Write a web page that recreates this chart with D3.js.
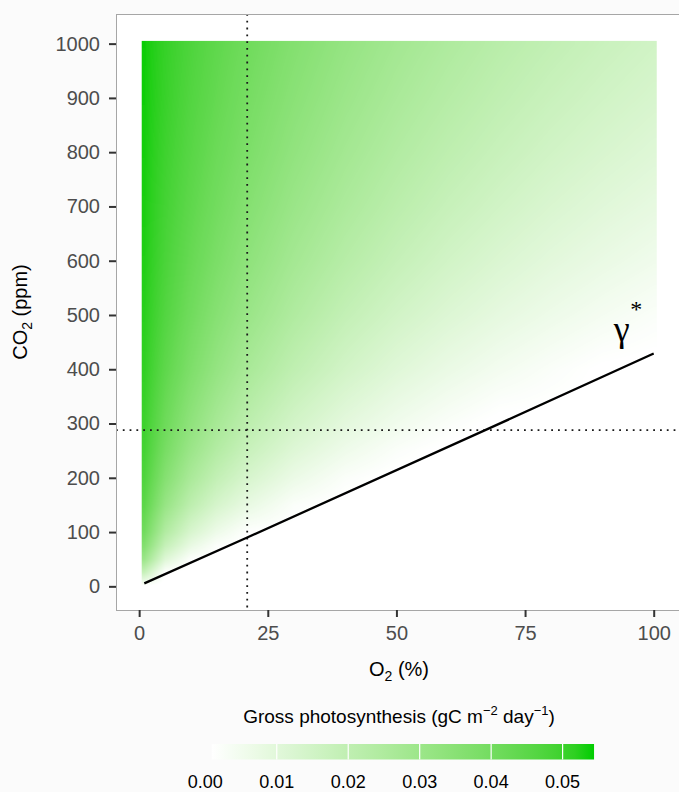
<!DOCTYPE html>
<html><head><meta charset="utf-8">
<script src="https://cdn.jsdelivr.net/npm/d3@7"></script>
<style>
body{margin:0;background:#fbfbfb;}
svg{display:block;font-family:"Liberation Sans",Arial,sans-serif;}
</style>
</head><body>
<svg id="chart" width="679" height="792"></svg>
<script>
// ---------------- data ----------------
const o2Nodes  = [1, 5, 10, 15, 21, 30, 40, 50, 60, 70, 80, 90, 100];              // O2 (%)
const co2Nodes = [0, 25, 50, 75, 100, 150, 200, 250, 300, 400, 500, 600, 700, 800, 900, 1000]; // CO2 (ppm)
// gross photosynthesis (gC m-2 day-1); one row per O2 node, values along co2Nodes
const gpp_o2_1   = [0, .0176, .0301, .0365, .0405, .0449, .0474, .0490, .0500, .0515, .0523, .0530, .0534, .0537, .0539, .0541];
const gpp_o2_5   = [0, .0010, .0111, .0186, .0241, .0314, .0360, .0392, .0415, .0446, .0467, .0481, .0491, .0499, .0506, .0510];
const gpp_o2_10  = [0, 0, .0016, .0078, .0130, .0208, .0262, .0302, .0333, .0377, .0407, .0428, .0444, .0457, .0467, .0475];
const gpp_o2_15  = [0, 0, 0, .0019, .0064, .0137, .0193, .0236, .0270, .0321, .0356, .0383, .0403, .0419, .0433, .0443];
const gpp_o2_21  = [0, 0, 0, 0, .0013, .0080, .0133, .0176, .0211, .0266, .0306, .0336, .0360, .0380, .0395, .0409];
const gpp_o2_30  = [0, 0, 0, 0, 0, .0022, .0070, .0111, .0146, .0202, .0245, .0278, .0305, .0328, .0347, .0363];
const gpp_o2_40  = [0, 0, 0, 0, 0, 0, .0023, .0060, .0093, .0148, .0191, .0227, .0256, .0280, .0301, .0319];
const gpp_o2_50  = [0, 0, 0, 0, 0, 0, 0, .0023, .0054, .0106, .0149, .0185, .0215, .0240, .0262, .0281];
const gpp_o2_60  = [0, 0, 0, 0, 0, 0, 0, 0, .0024, .0073, .0115, .0150, .0180, .0206, .0229, .0249];
const gpp_o2_70  = [0, 0, 0, 0, 0, 0, 0, 0, 0, .0046, .0087, .0121, .0151, .0177, .0200, .0220];
const gpp_o2_80  = [0, 0, 0, 0, 0, 0, 0, 0, 0, .0024, .0063, .0096, .0125, .0151, .0174, .0195];
const gpp_o2_90  = [0, 0, 0, 0, 0, 0, 0, 0, 0, .0005, .0042, .0075, .0103, .0129, .0152, .0172];
const gpp_o2_100 = [0, 0, 0, 0, 0, 0, 0, 0, 0, 0, .0024, .0056, .0084, .0109, .0132, .0152];
const gppGrid = [gpp_o2_1, gpp_o2_5, gpp_o2_10, gpp_o2_15, gpp_o2_21, gpp_o2_30, gpp_o2_40,
                 gpp_o2_50, gpp_o2_60, gpp_o2_70, gpp_o2_80, gpp_o2_90, gpp_o2_100];

// CO2 compensation point line (gamma*)
const gammaO2  = [1, 21, 68, 100];
const gammaCO2 = [5.5, 90, 291, 429];

const ambientO2 = 21;
const ambientCO2 = 288;

const xTicks = [0, 25, 50, 75, 100];
const yTicks = [0, 100, 200, 300, 400, 500, 600, 700, 800, 900, 1000];
const legendTicks = [0, 0.01, 0.02, 0.03, 0.04, 0.05];
const gppRange = [0.0009, 0.0544];
const rasterO2Extent = [0.5, 100.5];
const rasterCO2Extent = [0, 1005];

// ---------------- layout ----------------
const svg = d3.select("#chart");
const panel = {left: 116, right: 682, top: 14, bottom: 610};
const x = d3.scaleLinear().domain([-4.5, 105.5]).range([panel.left, panel.right]);
const y = d3.scaleLinear().domain([-43.6, 1054.6]).range([panel.bottom, panel.top]);
const color = d3.scaleLinear().domain(gppRange).range(["#ffffff", "#00cd00"])
  .interpolate(d3.interpolateLab).clamp(true);

// panel background
svg.append("rect").attr("x", panel.left).attr("y", panel.top)
  .attr("width", panel.right - panel.left).attr("height", panel.bottom - panel.top)
  .attr("fill", "#ffffff");

// ---------------- raster ----------------
function lookup(o, c) {
  const n = o2Nodes.length, m = co2Nodes.length;
  o = Math.max(o2Nodes[0], Math.min(o2Nodes[n - 1], o));
  c = Math.max(co2Nodes[0], Math.min(co2Nodes[m - 1], c));
  let i = d3.bisectRight(o2Nodes, o) - 1; if (i > n - 2) i = n - 2; if (i < 0) i = 0;
  let j = d3.bisectRight(co2Nodes, c) - 1; if (j > m - 2) j = m - 2; if (j < 0) j = 0;
  const to = (o - o2Nodes[i]) / (o2Nodes[i + 1] - o2Nodes[i]);
  const tc = (c - co2Nodes[j]) / (co2Nodes[j + 1] - co2Nodes[j]);
  const g = gppGrid;
  return (1 - to) * (1 - tc) * g[i][j] + to * (1 - tc) * g[i + 1][j]
       + (1 - to) * tc * g[i][j + 1] + to * tc * g[i + 1][j + 1];
}
const rx0 = x(rasterO2Extent[0]), rx1 = x(rasterO2Extent[1]);
const ry0 = y(rasterCO2Extent[1]), ry1 = y(rasterCO2Extent[0]);
const W = Math.round(rx1 - rx0), H = Math.round(ry1 - ry0);
const canvas = document.createElement("canvas");
canvas.width = W; canvas.height = H;
const ctx = canvas.getContext("2d");
const img = ctx.createImageData(W, H);
const lut = d3.range(256).map(k => d3.rgb(color(gppRange[0] + (gppRange[1] - gppRange[0]) * k / 255)));
for (let py = 0; py < H; py++) {
  const c = y.invert(ry0 + py + 0.5);
  for (let px = 0; px < W; px++) {
    const o = x.invert(rx0 + px + 0.5);
    const v = lookup(o, c);
    let k = Math.round((v - gppRange[0]) / (gppRange[1] - gppRange[0]) * 255);
    k = Math.max(0, Math.min(255, k));
    const col = lut[k];
    const idx = (py * W + px) * 4;
    img.data[idx] = col.r; img.data[idx + 1] = col.g; img.data[idx + 2] = col.b; img.data[idx + 3] = 255;
  }
}
ctx.putImageData(img, 0, 0);
svg.append("image").attr("x", rx0).attr("y", ry0).attr("width", W).attr("height", H)
  .attr("preserveAspectRatio", "none").attr("href", canvas.toDataURL());

// ---------------- reference lines ----------------
const dotted = "1.8,5";
svg.append("line").attr("x1", x(ambientO2)).attr("x2", x(ambientO2))
  .attr("y1", panel.top).attr("y2", panel.bottom)
  .attr("stroke", "#1a1a1a").attr("stroke-width", 1.8).attr("stroke-dasharray", dotted);
svg.append("line").attr("x1", panel.left).attr("x2", panel.right)
  .attr("y1", y(ambientCO2)).attr("y2", y(ambientCO2))
  .attr("stroke", "#1a1a1a").attr("stroke-width", 1.8).attr("stroke-dasharray", dotted);

// gamma* line
const gammaPts = gammaO2.map((o, i) => [o, gammaCO2[i]]);
svg.append("path").datum(gammaPts)
  .attr("d", d3.line().x(d => x(d[0])).y(d => y(d[1])))
  .attr("fill", "none").attr("stroke", "#000").attr("stroke-width", 2.3);

// gamma* label
const gl = svg.append("g").attr("font-family", "'Liberation Serif','DejaVu Serif',serif").attr("fill", "#000");
gl.append("text").attr("x", x(93.8)).attr("y", y(452)).attr("text-anchor", "middle")
  .attr("font-size", 36).text("γ");
gl.append("text").attr("x", x(96.6)).attr("y", y(497)).attr("text-anchor", "middle")
  .attr("font-size", 24).text("*");

// panel border
svg.append("rect").attr("x", panel.left + 0.5).attr("y", panel.top + 0.5)
  .attr("width", panel.right - panel.left).attr("height", panel.bottom - panel.top)
  .attr("fill", "none").attr("stroke", "#a6a6a6").attr("stroke-width", 1);

// ---------------- axes ----------------
const yAxis = svg.append("g").attr("transform", `translate(${panel.left},0)`)
  .call(d3.axisLeft(y).tickValues(yTicks).tickSize(7).tickPadding(9).tickFormat(d3.format("d")));
const xAxis = svg.append("g").attr("transform", `translate(0,${panel.bottom})`)
  .call(d3.axisBottom(x).tickValues(xTicks).tickSize(7).tickPadding(9).tickFormat(d3.format("d")));
[xAxis, yAxis].forEach(a => {
  a.select(".domain").remove();
  a.selectAll(".tick line").attr("stroke", "#333333").attr("stroke-width", 2);
  a.selectAll(".tick text").attr("fill", "#4d4d4d").attr("font-size", 20)
    .attr("font-family", "'Liberation Sans',Arial,sans-serif");
});

// axis titles
const xt = svg.append("text").attr("x", (panel.left + panel.right) / 2).attr("y", 676)
  .attr("text-anchor", "middle").attr("font-size", 20).attr("fill", "#000");
xt.append("tspan").text("O");
xt.append("tspan").attr("font-size", 14).attr("dy", 5).text("2");
xt.append("tspan").attr("dy", -5).text(" (%)");

const yt = svg.append("text").attr("transform", `translate(27,${(panel.top + panel.bottom) / 2}) rotate(-90)`)
  .attr("text-anchor", "middle").attr("font-size", 20).attr("fill", "#000");
yt.append("tspan").text("CO");
yt.append("tspan").attr("font-size", 14).attr("dy", 5).text("2");
yt.append("tspan").attr("dy", -5).text(" (ppm)");

// ---------------- legend ----------------
const lx = d3.scaleLinear().domain([0, 0.05]).range([205.3, 562.6]);
const barTop = 744, barH = 15.5;
const defs = svg.append("defs");
const grad = defs.append("linearGradient").attr("id", "gppGrad");
d3.range(0, 1.0001, 0.05).forEach(t => {
  grad.append("stop").attr("offset", t).attr("stop-color", color(gppRange[0] + t * (gppRange[1] - gppRange[0])));
});
svg.append("rect").attr("x", lx(gppRange[0])).attr("y", barTop)
  .attr("width", lx(gppRange[1]) - lx(gppRange[0])).attr("height", barH)
  .attr("fill", "url(#gppGrad)");
legendTicks.filter(v => v >= gppRange[0]).forEach(v => {
  svg.append("line").attr("x1", lx(v)).attr("x2", lx(v)).attr("y1", barTop).attr("y2", barTop + barH)
    .attr("stroke", "#ffffff").attr("stroke-width", 1.2);
});
legendTicks.forEach(v => {
  svg.append("text").attr("x", lx(v)).attr("y", 788).attr("text-anchor", "middle")
    .attr("font-size", 18).attr("fill", "#000").text(d3.format(".2f")(v));
});
const lt = svg.append("text").attr("x", 399).attr("y", 723).attr("text-anchor", "middle")
  .attr("font-size", 19).attr("fill", "#000");
lt.append("tspan").text("Gross photosynthesis (gC m");
lt.append("tspan").attr("font-size", 13).attr("dy", -8).text("−2");
lt.append("tspan").attr("dy", 8).text(" day");
lt.append("tspan").attr("font-size", 13).attr("dy", -8).text("−1");
lt.append("tspan").attr("dy", 8).text(")");
</script>
</body></html>
